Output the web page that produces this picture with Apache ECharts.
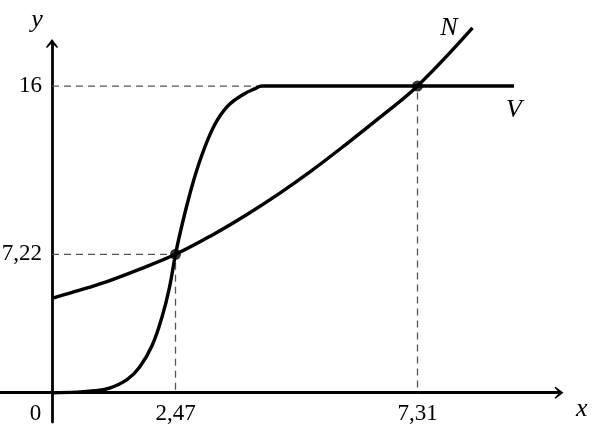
<!DOCTYPE html>
<html><head><meta charset="utf-8">
<script src="https://cdn.jsdelivr.net/npm/echarts@6/dist/echarts.min.js"></script>
<style>html,body{margin:0;padding:0;background:#fff}#c{width:592px;height:427px}</style>
</head><body><div id="c"></div>
<script>
// Curve N (exponential-like)
const nX = [0, 0.45, 1.1, 1.76, 2.47, 3.2, 3.9, 4.55, 5.2, 5.9, 6.55, 7.31, 8.41];
const nY = [4.92, 5.27, 5.8, 6.45, 7.22, 8.22, 9.3, 10.4, 11.6, 13.0, 14.35, 16, 19.03];
// Curve V (S-shaped, then flat at 16)
const vX = [0, 0.5, 0.85, 1.15, 1.5, 1.75, 2.0, 2.2, 2.35, 2.47, 2.6, 2.75, 2.9, 3.1, 3.3, 3.55, 3.85, 4.05, 4.2, 5.0, 9.24];
const vY = [0, 0.03, 0.1, 0.24, 0.68, 1.33, 2.45, 3.95, 5.5, 7.22, 8.75, 10.3, 11.65, 13.1, 14.2, 15.05, 15.6, 15.85, 16, 16, 16];
// Intersection points
const crossX = [2.47, 7.31];
const crossY = [7.22, 16];
// Tick labels
const xTicks = [0, 2.47, 7.31];
const yTicks = [7.22, 16];
const seriesNames = ['N', 'V'];

const FONT = 'Liberation Serif';
const ARROW = 'path://M0,0 L6,8 L5,9 L0,4 L-5,9 L-6,8 Z';

function zip(xs, ys) { return xs.map((x, i) => [x, ys[i]]); }
function withEndLabel(pts, text, pos, dist) {
  return pts.map((p, i) => i === pts.length - 1
    ? { value: p, label: { show: true, formatter: text, position: pos, distance: dist,
        fontFamily: FONT, fontStyle: 'italic', fontSize: 26, color: '#000' } }
    : { value: p });
}
const fmt = v => String(v).replace('.', ',');

const dashSeries = crossX.map((cx, i) => ({
  type: 'line', silent: true, symbol: 'none', z: 1,
  data: [[0, crossY[i]], [cx, crossY[i]], [cx, 0]],
  lineStyle: { color: '#555', width: 1.3, type: [7, 5] }
}));

const chart = echarts.init(document.getElementById('c'), null, { renderer: 'canvas' });
chart.setOption({
  animation: false,
  backgroundColor: '#fff',
  grid: { left: 0, right: 33, top: 43.5, bottom: 5, containLabel: false, outerBoundsMode: 'none' },
  xAxis: {
    type: 'value', min: -1.04, max: 10.14,
    position: 'bottom', offset: -29.3,
    name: 'x', nameLocation: 'end', nameGap: 17,
    nameTextStyle: { fontFamily: FONT, fontStyle: 'italic', fontSize: 26, color: '#000',
      verticalAlign: 'top', lineHeight: 32 },
    axisLine: { onZero: false, symbol: ['none', ARROW], symbolSize: [12, 9],
      lineStyle: { color: '#000', width: 2.8 } },
    axisTick: { show: false },
    splitLine: { show: false },
    axisLabel: {
      customValues: xTicks, margin: 10,
      fontFamily: FONT, fontSize: 23, color: '#000',
      formatter: v => v === 0 ? '{z|0}' : fmt(v),
      rich: { z: { fontFamily: FONT, fontSize: 23, color: '#000', padding: [0, 33, 0, 0] } }
    }
  },
  yAxis: {
    type: 'value', min: -1.53, max: 18.22,
    position: 'left', offset: -52,
    name: 'y', nameLocation: 'end', nameGap: 10,
    nameTextStyle: { fontFamily: FONT, fontStyle: 'italic', fontSize: 26, color: '#000', padding: [0, 30, 0, 0] },
    axisLine: { onZero: false, symbol: ['none', ARROW], symbolSize: [12, 9],
      lineStyle: { color: '#000', width: 2.8 } },
    axisTick: { show: false },
    splitLine: { show: false },
    axisLabel: {
      customValues: yTicks, margin: 10,
      fontFamily: FONT, fontSize: 23, color: '#000',
      formatter: v => fmt(v)
    }
  },
  series: [
    ...dashSeries,
    {
      name: seriesNames[1], type: 'line', smooth: 0.4, clip: false,
      showSymbol: true, symbolSize: 0, z: 3,
      data: withEndLabel(zip(vX, vY), seriesNames[1], 'bottom', 11),
      lineStyle: { color: '#000', width: 3.4 }, itemStyle: { color: '#000' }
    },
    {
      name: seriesNames[0], type: 'line', smooth: 0.4, clip: false,
      showSymbol: true, symbolSize: 0, z: 3,
      data: withEndLabel(zip(nX, nY), seriesNames[0], 'left', 15),
      lineStyle: { color: '#000', width: 3.4 }, itemStyle: { color: '#000' }
    },
    {
      type: 'scatter', z: 5, symbol: 'circle', symbolSize: 11, clip: false,
      data: zip(crossX, crossY), itemStyle: { color: '#000' }
    }
  ]
});
</script>
</body></html>
